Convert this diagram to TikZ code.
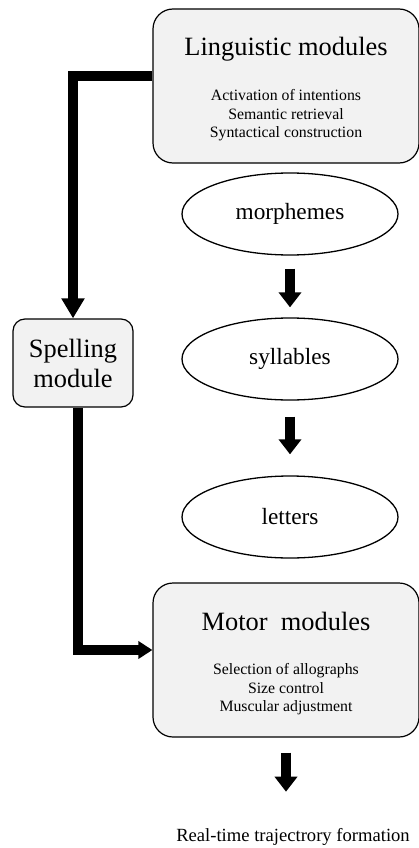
\documentclass[tikz,border=0pt]{standalone}
\usepackage{fontspec}
\setmainfont{Liberation Serif}
\usetikzlibrary{arrows.meta,shapes.geometric,calc}
\tikzset{
  modbox/.style={draw=black, line width=1.2pt, fill=black!5, rounded corners=20pt,
    minimum width=266pt, minimum height=154pt, inner sep=0pt},
  unitoval/.style={ellipse, draw=black, line width=1.3pt, minimum width=216pt,
    minimum height=82pt, inner sep=0pt, font=\fontsize{23.3}{27}\selectfont}
}
\newcommand{\headsize}{\fontsize{26.4}{30}\selectfont}
\newcommand{\subsize}{\fontsize{15.8}{18.5}\selectfont}

\begin{document}
\begin{tikzpicture}[x=1pt,y=-1pt]

  % --- styles ---
  \tikzset{
    headtxt/.style={font=\headsize, inner sep=0pt, anchor=base},
    subtxt/.style={font=\subsize, inner sep=0pt, align=center},
    spellbox/.style={draw=black, line width=1.2pt, fill=black!5, rounded corners=12pt,
      minimum width=120pt, minimum height=88pt, inner sep=0pt, align=center, font=\headsize},
    fatline/.style={line width=10pt},
    bigtip/.style={-{Triangle[length=20pt,width=22pt]}},
    sidetip/.style={-{Triangle[length=14pt,width=17pt]}},
    smalltip/.style={-{Triangle[length=15pt,width=22pt]}},
  }

  % --- page ---
  \useasboundingbox (0,0) rectangle (418,848);

  % =========================
  %  MODULE BOXES
  % =========================

  \node[modbox] (ling) at (286,86) {};
  \node[headtxt] (lingtitle) at ([yshift=30pt]ling.center) {Linguistic modules};
  \node[subtxt] (linglist) at ([yshift=-29.4pt]ling.center)
    {Activation of intentions\\Semantic retrieval\\Syntactical construction};

  \node[modbox] (motor) at (286,660) {};
  \node[headtxt] (motortitle) at ([yshift=30pt]motor.center) {Motor~ modules};
  \node[subtxt] (motorlist) at ([yshift=-29.5pt]motor.center)
    {Selection of allographs\\Size control\\Muscular adjustment};

  \node[spellbox] (spell) at (73,363) {Spelling\\module};

  % =========================
  %  UNITS
  % =========================

  \node[unitoval] (morph) at (290,214) {morphemes};
  \node[unitoval] (syl)   at (290,359) {syllables};
  \node[unitoval] (let)   at (290,517) {letters};

  \node[font=\fontsize{18.6}{22}\selectfont, inner sep=0pt, anchor=base] (traj)
    at (293,841) {Real-time trajectrory formation};

  % =========================
  %  ARROWS
  % =========================

  \draw[fatline,bigtip] ([yshift=10pt]ling.west) -| (spell.north);
  \draw[fatline,sidetip] ([xshift=5pt]spell.south) |- ([yshift=10pt]motor.west);

  \draw[fatline,smalltip,shorten <=13pt,shorten >=10pt] (morph.south) -- (syl.north);
  \draw[fatline,smalltip,shorten <=16pt,shorten >=21pt] (syl.south) -- (let.north);
  \draw[fatline,smalltip,shorten <=15pt,shorten >=36pt] (motor.south) -- (motor.south |- traj.north);

\end{tikzpicture}
\end{document}
